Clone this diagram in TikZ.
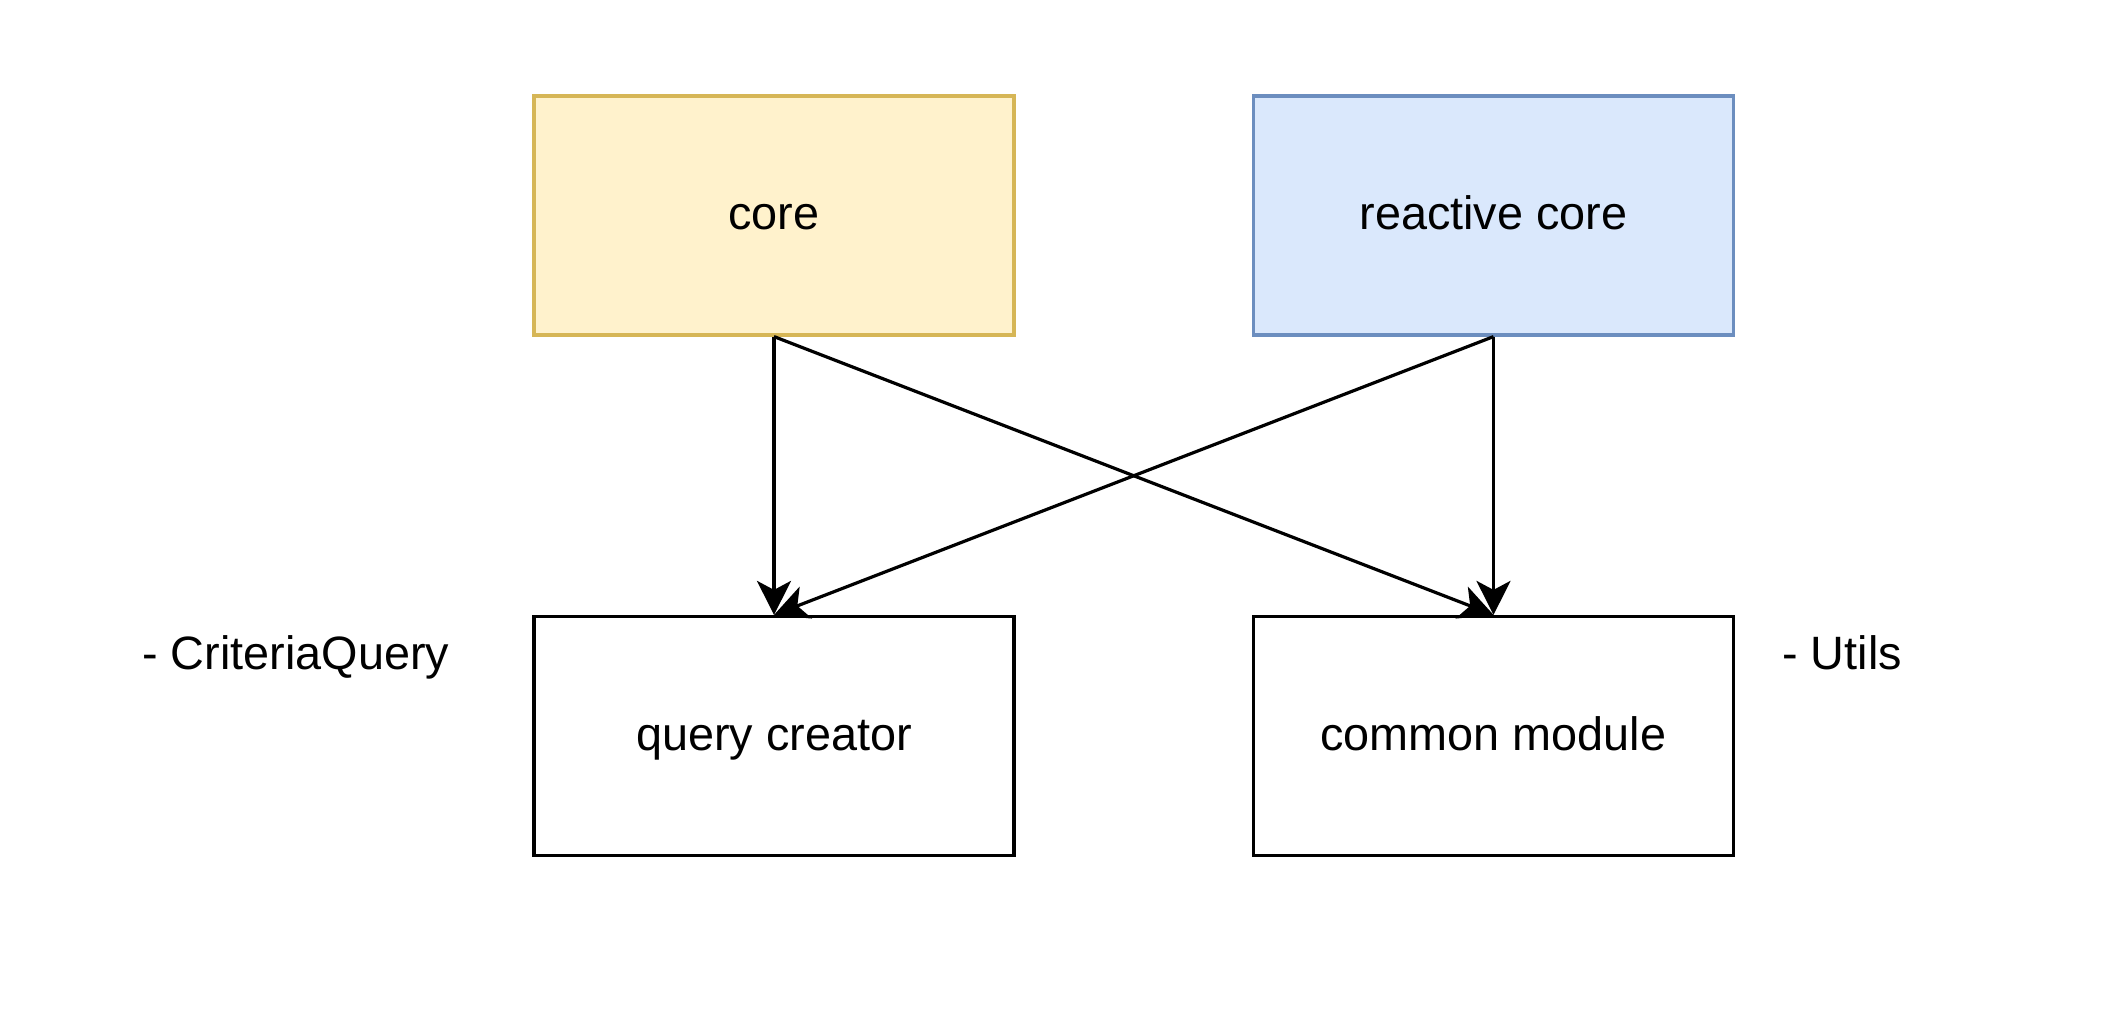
\documentclass[tikz,border=0pt]{standalone}
\usepackage{fontspec}
\setmainfont{Liberation Sans}
\usetikzlibrary{arrows.meta}

\definecolor{coreFill}{HTML}{FFF2CC}
\definecolor{coreLine}{HTML}{D6B656}
\definecolor{reactFill}{HTML}{DAE8FC}
\definecolor{reactLine}{HTML}{6C8EBF}

\tikzset{
  module/.style={draw=black, fill=white, line width=1.6pt, rectangle,
    minimum width=240pt, minimum height=119.5pt, inner sep=0pt,
    font=\fontsize{23.4}{27}\selectfont, text height=14pt, text depth=0pt},
  coremod/.style={module, draw=coreLine, fill=coreFill},
  reactmod/.style={module, draw=reactLine, fill=reactFill},
  note/.style={inner sep=0pt, anchor=base west, font=\fontsize{23.4}{27}\selectfont},
  dep/.style={line width=1.6pt, -{Stealth[length=17pt, width=17pt, inset=4.5pt]}}
}

\begin{document}
\begin{tikzpicture}[x=0.5pt, y=-0.5pt]
  \useasboundingbox (0,0) rectangle (2104,1026);

  % upper row: the two core variants
  \node[coremod]  (core)   at (774,215.5)  {core};
  \node[reactmod] (react)  at (1493.5,215.5) {reactive core};

  % lower row: shared modules
  \node[module] (query)  at (774,736)    {query creator};
  \node[module] (common) at (1493.5,736) {common module};

  % side notes
  \node[note] (qnote) at (142,669)  {- CriteriaQuery};
  \node[note] (cnote) at (1782,669) {- Utils};

  % dependencies
  \draw[dep] (core.south)  -- (query.north);
  \draw[dep] (core.south)  -- (common.north);
  \draw[dep] (react.south) -- (query.north);
  \draw[dep] (react.south) -- (common.north);
\end{tikzpicture}
\end{document}
